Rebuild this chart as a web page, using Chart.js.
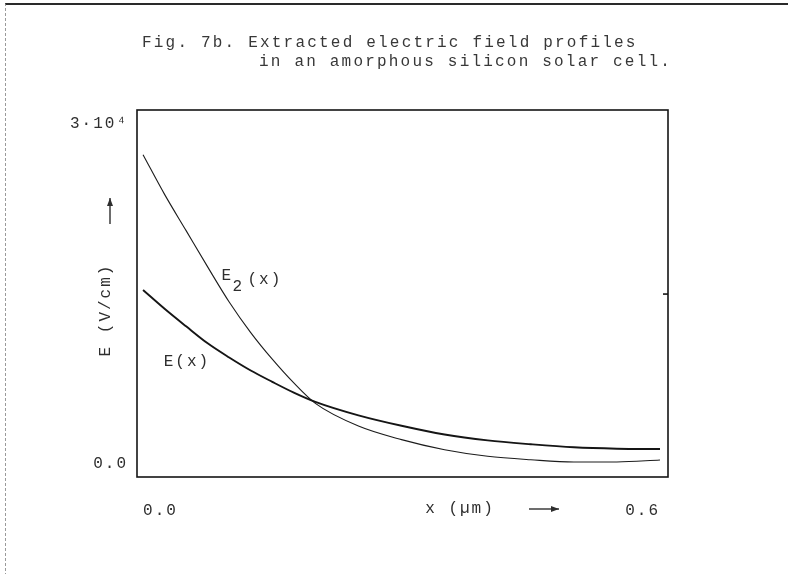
<!DOCTYPE html>
<html lang="en">

<head>
    <meta charset="UTF-8">
    <title>Fig. 7b - Extracted electric field profiles</title>
    <script src="https://cdn.jsdelivr.net/npm/chart.js"></script>
    <style>
        body {
            margin: 0;
            padding: 0;
            background-color: #ffffff;
        }

        .page {
            position: relative;
            width: 788px;
            height: 574px;
            overflow: hidden;
        }

        .page-border {
            position: absolute;
            left: 5px;
            top: 3px;
            right: -2px;
            bottom: -2px;
            border-top: 2px solid #2a2a2a;
            border-left: 1px dashed #9a9a9a;
        }

        .caption {
            position: absolute;
            font-family: "Liberation Mono", "DejaVu Sans Mono", monospace;
            font-size: 16px;
            letter-spacing: 2.2px;
            line-height: 18px;
            color: #383838;
            white-space: pre;
        }

        #chart {
            position: absolute;
            left: 0;
            top: 0;
        }
    </style>
</head>

<body>
    <div class="page">
        <div class="page-border"></div>
        <canvas id="chart" width="788" height="574"></canvas>
        <div class="caption" style="left: 142px; top: 34px;">Fig. 7b. Extracted electric field profiles</div>
        <div class="caption" style="left: 259px; top: 53px;">in an amorphous silicon solar cell.</div>
    </div>

    <script>
        // depth x in um, fields in V/cm
        var xValues = [0, 0.025, 0.05, 0.075, 0.1, 0.125, 0.15, 0.175, 0.2, 0.25, 0.3, 0.35, 0.4, 0.45, 0.5, 0.55, 0.6];
        var eValues = [15360, 13700, 12150, 10650, 9400, 8250, 7250, 6300, 5480, 4290, 3370, 2600, 2080, 1740, 1470, 1350, 1320];
        var e2Values = [27300, 23800, 20600, 17400, 14300, 11600, 9250, 7150, 5350, 3350, 2150, 1260, 680, 370, 170, 180, 350];

        var xTickValues = [0, 0.6];
        var yTickValues = [0, 30000];
        var yTickLabels = ['0.0', '3\u00b710\u2074'];
        var frameTickValues = [15000];

        var FONT = '"Liberation Mono", "DejaVu Sans Mono", monospace';
        var INK = '#2e2e2e';

        function toPoints(ys) {
            return xValues.map(function (x, i) { return { x: x, y: ys[i] }; });
        }

        function arrow(ctx, x1, y1, x2, y2) {
            var a = Math.atan2(y2 - y1, x2 - x1);
            ctx.beginPath();
            ctx.moveTo(x1, y1);
            ctx.lineTo(x2, y2);
            ctx.stroke();
            ctx.beginPath();
            ctx.moveTo(x2, y2);
            ctx.lineTo(x2 - 8 * Math.cos(a) + 3 * Math.sin(a), y2 - 8 * Math.sin(a) - 3 * Math.cos(a));
            ctx.lineTo(x2 - 8 * Math.cos(a) - 3 * Math.sin(a), y2 - 8 * Math.sin(a) + 3 * Math.cos(a));
            ctx.closePath();
            ctx.fill();
        }

        var paperPlugin = {
            id: 'paper',
            beforeDraw: function (chart) {
                chart.ctx.letterSpacing = '2px';
            },
            afterDraw: function (chart) {
                var ctx = chart.ctx;
                var area = chart.chartArea;
                var xs = chart.scales.x;
                var ys = chart.scales.y;

                ctx.save();
                // frame
                ctx.strokeStyle = '#141414';
                ctx.lineWidth = 1.6;
                ctx.strokeRect(area.left, area.top, area.right - area.left, area.bottom - area.top);
                frameTickValues.forEach(function (v) {
                    var py = ys.getPixelForValue(v);
                    ctx.beginPath();
                    ctx.moveTo(area.right, py);
                    ctx.lineTo(area.right - 5, py);
                    ctx.stroke();
                });

                ctx.fillStyle = INK;
                ctx.strokeStyle = INK;
                ctx.lineWidth = 1.4;
                ctx.font = '16px ' + FONT;
                ctx.letterSpacing = '2px';
                ctx.textBaseline = 'middle';

                // axis titles
                ctx.save();
                ctx.translate(area.left - 31, 310);
                ctx.rotate(-Math.PI / 2);
                ctx.textAlign = 'center';
                ctx.fillText('E (V/cm)', 0, 0);
                ctx.restore();
                arrow(ctx, area.left - 27, 224, area.left - 27, 198);

                ctx.textAlign = 'center';
                ctx.fillText('x (\u00b5m)', 460, 509);
                arrow(ctx, 529, 509, 559, 509);

                // curve labels
                ctx.textAlign = 'left';
                var ex = xs.getPixelForValue(0.024);
                var ey = ys.getPixelForValue(9000);
                ctx.fillText('E(x)', ex, ey);

                var e2x = xs.getPixelForValue(0.091);
                var e2y = ys.getPixelForValue(16300);
                ctx.fillText('E', e2x, e2y - 4);
                ctx.fillText('2', e2x + 11, e2y + 7);
                ctx.fillText('(x)', e2x + 26, e2y);
                ctx.restore();
            }
        };

        var ctx = document.getElementById('chart').getContext('2d');
        var fieldChart = new Chart(ctx, {
            type: 'line',
            data: {
                datasets: [{
                    label: 'E(x)',
                    data: toPoints(eValues),
                    borderColor: '#151515',
                    borderWidth: 1.9,
                    pointRadius: 0,
                    fill: false,
                    cubicInterpolationMode: 'monotone'
                }, {
                    label: 'E2(x)',
                    data: toPoints(e2Values),
                    borderColor: '#1c1c1c',
                    borderWidth: 1.1,
                    pointRadius: 0,
                    fill: false,
                    cubicInterpolationMode: 'monotone'
                }]
            },
            options: {
                responsive: false,
                animation: false,
                layout: {
                    padding: { top: 110, right: 120, left: 0, bottom: 0 }
                },
                plugins: {
                    legend: { display: false },
                    tooltip: { enabled: false },
                    title: { display: false }
                },
                scales: {
                    x: {
                        type: 'linear',
                        min: -0.007,
                        max: 0.6093,
                        grid: { display: false, drawTicks: false },
                        border: { display: false },
                        afterBuildTicks: function (axis) {
                            axis.ticks = xTickValues.map(function (v) { return { value: v }; });
                        },
                        afterFit: function (axis) {
                            axis.height = 97;
                        },
                        ticks: {
                            align: 'inner',
                            padding: 24,
                            maxRotation: 0,
                            color: INK,
                            font: { family: FONT, size: 16 },
                            callback: function (v) { return v.toFixed(1); }
                        }
                    },
                    y: {
                        min: -1150,
                        max: 31250,
                        grid: { display: false, drawTicks: false },
                        border: { display: false },
                        afterBuildTicks: function (axis) {
                            axis.ticks = yTickValues.map(function (v) { return { value: v }; });
                        },
                        afterFit: function (axis) {
                            axis.width = 137;
                        },
                        ticks: {
                            padding: 9,
                            color: INK,
                            font: { family: FONT, size: 16 },
                            callback: function (v) { return yTickLabels[yTickValues.indexOf(v)]; }
                        }
                    }
                }
            },
            plugins: [paperPlugin]
        });
    </script>
</body>

</html>
